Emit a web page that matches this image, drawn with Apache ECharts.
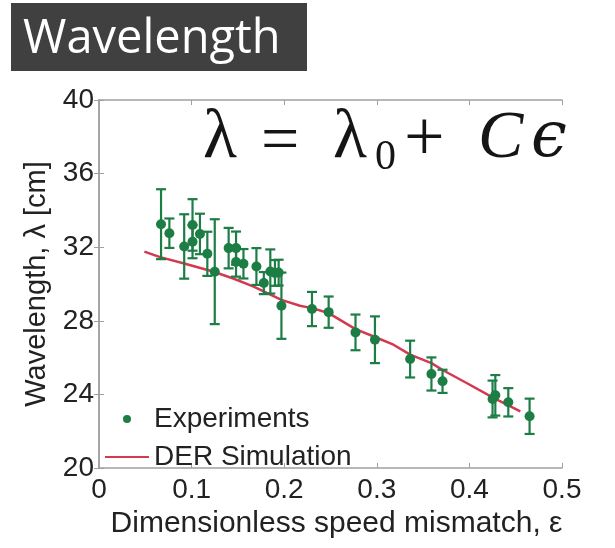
<!DOCTYPE html>
<html>
<head>
<meta charset="utf-8">
<script src="https://cdn.jsdelivr.net/npm/echarts@6/dist/echarts.min.js"></script>
<style>
html,body{margin:0;padding:0;background:#fff;}
#chart{width:615px;height:548px;}
</style>
</head>
<body>
<div id="chart"></div>
<script>
// ---- data ----
var titleText = 'Wavelength';
var xAxisName = 'Dimensionless speed mismatch, \u03b5';
var yAxisName = 'Wavelength, \u03bb [cm]';
var seriesNames = ['Experiments', 'DER Simulation'];
var xTicks = [0, 0.1, 0.2, 0.3, 0.4, 0.5];
var yTicks = [20, 24, 28, 32, 36, 40];

var expX   = [0.067, 0.076, 0.092, 0.101, 0.101, 0.109, 0.117, 0.125, 0.140, 0.148, 0.148, 0.156, 0.170, 0.178, 0.185, 0.190, 0.194, 0.197, 0.230, 0.248, 0.277, 0.298, 0.336, 0.359, 0.371, 0.425, 0.428, 0.442, 0.465];
var expY   = [33.25, 32.76, 32.04, 33.21, 32.30, 32.72, 31.64, 30.67, 31.95, 31.95, 31.20, 31.10, 30.95, 30.05, 30.68, 30.60, 30.62, 28.82, 28.64, 28.47, 27.37, 26.97, 25.92, 25.11, 24.71, 23.75, 23.95, 23.57, 22.81];
var expErr = [1.90, 0.80, 1.75, 1.40, 0.90, 1.10, 1.20, 2.85, 1.10, 0.90, 0.80, 0.80, 1.00, 0.60, 1.20, 0.70, 0.70, 1.80, 0.93, 0.85, 0.97, 1.27, 1.00, 0.90, 0.63, 1.00, 1.10, 0.77, 0.96];

var simX = [0.049, 0.066, 0.093, 0.123, 0.145, 0.167, 0.197, 0.217, 0.230, 0.248, 0.277, 0.298, 0.318, 0.336, 0.359, 0.372, 0.397, 0.426, 0.455];
var simY = [31.76, 31.46, 31.10, 30.68, 30.30, 29.86, 29.14, 28.82, 28.69, 28.42, 27.55, 27.12, 26.70, 26.16, 25.70, 25.30, 24.62, 23.81, 23.08];

// ---- build ----
var green = '#1c7d45';
var red = '#d23a50';
var sans = 'Liberation Sans';
var mathFont = '"Liberation Serif"';

var expData = expX.map(function (x, i) { return [x, expY[i]]; });
var errData = expX.map(function (x, i) { return [x, expY[i], expErr[i]]; });
var simData = simX.map(function (x, i) { return [x, simY[i]]; });

var chart = echarts.init(document.getElementById('chart'));

var axisGray = '#a0a0a0';
function baseX(extra) {
  return Object.assign({
    type: 'value', min: xTicks[0], max: xTicks[xTicks.length - 1], interval: 0.1,
    axisLine: { show: true, lineStyle: { color: axisGray, width: 1.5 } },
    axisTick: { show: true, inside: true, length: 5, lineStyle: { color: axisGray } },
    splitLine: { show: false }
  }, extra);
}
function baseY(extra) {
  return Object.assign({
    type: 'value', min: yTicks[0], max: yTicks[yTicks.length - 1], interval: 4,
    axisLine: { show: true, lineStyle: { color: axisGray, width: 1.5 } },
    axisTick: { show: true, inside: true, length: 5, lineStyle: { color: axisGray } },
    splitLine: { show: false }
  }, extra);
}

var mathPieces = [
  { t: '\u03bb', x: 203, y: 139, s: 70, it: 'normal', f: mathFont },
  { t: '=',      x: 261, y: 143, s: 68, it: 'normal', f: mathFont },
  { t: '\u03bb', x: 333, y: 139, s: 70, it: 'normal', f: mathFont },
  { t: '0',      x: 375, y: 158, s: 42, it: 'normal', f: mathFont },
  { t: '+',      x: 404, y: 141, s: 72, it: 'normal', f: mathFont },
  { t: 'C',      x: 478, y: 139, s: 68, it: 'italic', f: mathFont },
  { t: '\u03f5', x: 531, y: 139, s: 64, it: 'italic', f: '"DejaVu Serif"' }
];

var graphics = [
  { type: 'rect', left: 11, top: 3, shape: { width: 296, height: 68 }, style: { fill: '#404040' }, z: 10 },
  { type: 'text', x: 23, y: 40, z: 11, style: { text: titleText, fill: '#ffffff', font: '47px "Open Sans"', verticalAlign: 'middle', align: 'left' } }
];
mathPieces.forEach(function (p) {
  graphics.push({ type: 'text', x: p.x, y: p.y, z: 11, style: { text: p.t, fill: '#151515', font: p.it + ' ' + p.s + 'px ' + p.f, verticalAlign: 'middle', align: 'left' } });
});

chart.setOption({
  animation: false,
  backgroundColor: '#ffffff',
  grid: { left: 99, right: 53, top: 100, bottom: 80, containLabel: false, outerBoundsMode: 'none' },
  xAxis: [
    baseX({
      position: 'bottom',
      name: xAxisName, nameLocation: 'middle', nameGap: 40,
      nameTextStyle: { fontFamily: sans, fontSize: 30, color: '#222', padding: [0, 0, 0, 12] },
      axisLabel: { show: true, margin: 8, fontFamily: sans, fontSize: 28, color: '#222',
        formatter: function (v) { return v === 0 ? '0' : v.toFixed(1); } }
    }),
    baseX({ position: 'top', axisLabel: { show: false } })
  ],
  yAxis: [
    baseY({
      position: 'left',
      name: yAxisName, nameLocation: 'middle', nameGap: 46,
      nameTextStyle: { fontFamily: sans, fontSize: 29, color: '#222' },
      axisLabel: { show: true, margin: 5, fontFamily: sans, fontSize: 28, color: '#222' }
    }),
    baseY({ position: 'right', axisLabel: { show: false } })
  ],
  legend: {
    orient: 'vertical', left: 100, top: 400,
    itemWidth: 44, itemHeight: 8, itemGap: 10,
    textStyle: { fontFamily: sans, fontSize: 28, color: '#222', lineHeight: 28 },
    data: [
      { name: seriesNames[0], icon: 'circle' },
      { name: seriesNames[1], icon: 'path://M0,0 L100,0 L100,5 L0,5 Z' }
    ]
  },
  graphic: graphics,
  series: [
    {
      name: seriesNames[1], type: 'line', data: simData, showSymbol: false, symbol: 'none',
      smooth: false, lineStyle: { color: red, width: 2.5 }, itemStyle: { color: red }, z: 3
    },
    {
      name: 'errorbars', type: 'custom', data: errData, z: 4,
      renderItem: function (params, api) {
        var x = api.value(0), y = api.value(1), e = api.value(2);
        var top = api.coord([x, y + e]);
        var bot = api.coord([x, y - e]);
        var hw = 5;
        var st = { stroke: green, lineWidth: 2.2 };
        return { type: 'group', children: [
          { type: 'line', shape: { x1: top[0], y1: top[1], x2: bot[0], y2: bot[1] }, style: st },
          { type: 'line', shape: { x1: top[0] - hw, y1: top[1], x2: top[0] + hw, y2: top[1] }, style: st },
          { type: 'line', shape: { x1: bot[0] - hw, y1: bot[1], x2: bot[0] + hw, y2: bot[1] }, style: st }
        ] };
      }
    },
    {
      name: seriesNames[0], type: 'scatter', data: expData, symbol: 'circle', symbolSize: 10,
      itemStyle: { color: green, opacity: 1 }, z: 5
    }
  ]
});
</script>
</body>
</html>
